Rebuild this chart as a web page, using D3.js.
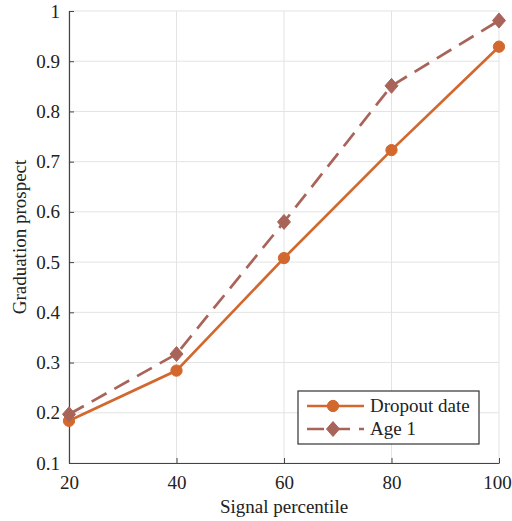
<!DOCTYPE html>
<html lang="en">
<head>
<meta charset="UTF-8">
<title>Graduation prospect</title>
<style>
  body { margin: 0; background: #fff; }
</style>
</head>
<body>
<svg id="svg" width="512" height="521"></svg>
<script src="https://d3js.org/d3.v7.min.js"></script>
<script>
const percentiles = [20, 40, 60, 80, 100]
const dropoutDate = [0.184, 0.284, 0.508, 0.723, 0.929]
const age1 = [0.197, 0.317, 0.580, 0.851, 0.981]
const xTicks = [20, 40, 60, 80, 100]
const yTicks = [0.1, 0.2, 0.3, 0.4, 0.5, 0.6, 0.7, 0.8, 0.9, 1]

const series = [
    { name: 'Dropout date', values: dropoutDate, color: '#d2682e', dash: null, marker: 'circle' },
    { name: 'Age 1', values: age1, color: '#a9645a', dash: '17,9', marker: 'diamond' }
]

const FONT = '"Liberation Serif", "Times New Roman", serif'
const FS = 19
const plotL = 69, plotR = 499, plotT = 11, plotB = 463
const svg = d3.select('#svg')

const x = d3.scaleLinear().domain([20, 100]).range([plotL, plotR])
const y = d3.scaleLinear().domain([0.1, 1]).range([plotB, plotT])

// grid
svg.append('g').selectAll('line').data(xTicks).enter().append('line')
    .attr('x1', d => x(d)).attr('x2', d => x(d))
    .attr('y1', plotT).attr('y2', plotB)
    .attr('stroke', '#e3e3e3').attr('stroke-width', 1)
svg.append('g').selectAll('line').data(yTicks).enter().append('line')
    .attr('y1', d => y(d)).attr('y2', d => y(d))
    .attr('x1', plotL).attr('x2', plotR)
    .attr('stroke', '#e3e3e3').attr('stroke-width', 1)

// axes
const xAxis = svg.append('g')
    .attr('transform', `translate(0,${plotB})`)
    .call(d3.axisBottom(x).tickValues(xTicks).tickSizeInner(-5).tickSizeOuter(0).tickPadding(13))
const yAxis = svg.append('g')
    .attr('transform', `translate(${plotL},0)`)
    .call(d3.axisLeft(y).tickValues(yTicks).tickFormat(d => d3.format('~g')(d)).tickSizeInner(-5).tickSizeOuter(0).tickPadding(9))
for (const ax of [xAxis, yAxis]) {
    ax.attr('font-family', FONT).attr('font-size', FS)
    ax.select('.domain').attr('stroke', '#444').attr('stroke-width', 1.2)
    ax.selectAll('.tick line').attr('stroke', '#444')
    ax.selectAll('.tick text').attr('fill', '#222')
}
// keep the "100" label inside the window
xAxis.selectAll('.tick text').filter(d => d === 100).attr('dx', -2)

// lines
const line = d3.line().x((d, i) => x(percentiles[i])).y(d => y(d))
series.forEach(s => {
    svg.append('path')
        .datum(s.values)
        .attr('d', line)
        .attr('fill', 'none')
        .attr('stroke', s.color)
        .attr('stroke-width', 2.7)
        .attr('stroke-dasharray', s.dash)
})

const circleSym = d3.symbol().type(d3.symbolCircle).size(100)
const diamondPath = 'M0,-7.5L6.5,0L0,7.5L-6.5,0Z'
const markerPath = s => s.marker === 'circle' ? circleSym() : diamondPath
series.forEach(s => {
    svg.append('g').selectAll('path').data(s.values).enter().append('path')
        .attr('transform', (d, i) => `translate(${x(percentiles[i])},${y(d)})`)
        .attr('d', markerPath(s))
        .attr('fill', s.color)
        .attr('stroke', s.color).attr('stroke-width', 1).attr('stroke-linejoin', 'round')
})

// axis labels
svg.append('text').attr('x', (plotL + plotR) / 2).attr('y', 513)
    .attr('text-anchor', 'middle').attr('font-family', FONT).attr('font-size', FS)
    .attr('fill', '#222').text('Signal percentile')
svg.append('text').attr('transform', `translate(26,${(plotT + plotB) / 2}) rotate(-90)`)
    .attr('text-anchor', 'middle').attr('font-family', FONT).attr('font-size', FS)
    .attr('fill', '#222').text('Graduation prospect')

// legend
const lg = svg.append('g').attr('transform', 'translate(298,391)')
lg.append('rect').attr('width', 181).attr('height', 53)
    .attr('fill', '#fff').attr('stroke', '#333').attr('stroke-width', 1.2)
series.forEach((s, i) => {
    const ly = 15 + i * 23
    lg.append('line').attr('x1', 9).attr('x2', 66).attr('y1', ly).attr('y2', ly)
        .attr('stroke', s.color).attr('stroke-width', 2.7)
        .attr('stroke-dasharray', s.dash ? '17,9' : null)
    lg.append('path').attr('transform', `translate(35,${ly})`)
        .attr('d', markerPath(s))
        .attr('fill', s.color)
        .attr('stroke', s.color).attr('stroke-width', 1).attr('stroke-linejoin', 'round')
    lg.append('text').attr('x', 72).attr('y', ly + 6)
        .attr('font-family', FONT).attr('font-size', FS).attr('fill', '#222').text(s.name)
})
</script>
</body>
</html>
